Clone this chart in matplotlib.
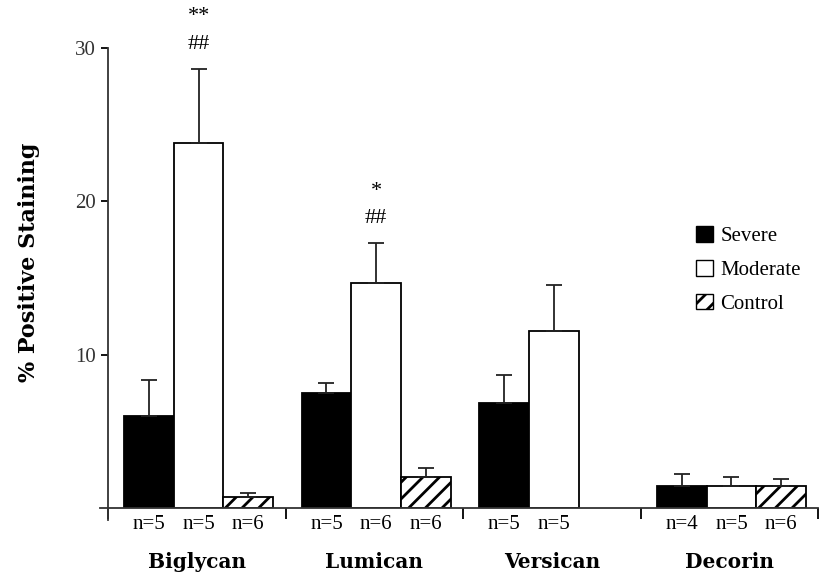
from matplotlib import pyplot as plt
from matplotlib.patches import Patch
import numpy as np

plt.rcParams['font.family'] = ['Liberation Serif', 'DejaVu Serif']
plt.rcParams['hatch.linewidth'] = 2.0

proteins = ["Biglycan", "Lumican", "Versican", "Decorin"]
groups = ["Severe", "Moderate", "Control"]
# mean % positive staining, None = not measured
severe = [6.0, 7.5, 6.85, 1.45]
moderate = [23.8, 14.7, 11.55, 1.45]
control = [0.75, 2.0, None, 1.45]
# upper error (SEM)
severe_err = [2.35, 0.65, 1.85, 0.75]
moderate_err = [4.85, 2.55, 3.0, 0.55]
control_err = [0.25, 0.6, None, 0.45]
n_labels = [["n=5", "n=5", "n=6"], ["n=5", "n=6", "n=6"],
            ["n=5", "n=5", None], ["n=4", "n=5", "n=6"]]
stars = {(0, 1): ("**", "##"), (1, 1): ("*", "##")}

fig = plt.figure(figsize=(8.29, 5.85), dpi=100)
ax = fig.add_axes([0.1303, 0.1316, 0.857, 0.7864])

w = 0.28
styles = [dict(color="black", edgecolor="black"),
          dict(color="white", edgecolor="black"),
          dict(color="white", edgecolor="black", hatch="//")]
x = np.arange(len(proteins))
for j, (vals, errs) in enumerate([(severe, severe_err), (moderate, moderate_err), (control, control_err)]):
    for i in range(len(proteins)):
        if vals[i] is None:
            continue
        xi = x[i] + (j - 1) * w + 0.01
        ax.bar(xi, vals[i], width=w, linewidth=1.3, **styles[j])
        ax.errorbar(xi, vals[i], yerr=[[0], [errs[i]]], fmt="none", ecolor="#222222",
                    elinewidth=1.3, capsize=6, capthick=1.3)
        if n_labels[i][j]:
            ax.text(xi, -0.45, n_labels[i][j], ha="center", va="top", fontsize=15)
        if (i, j) in stars:
            top = vals[i] + errs[i]
            ax.text(xi, top + 1.6, stars[(i, j)][1], ha="center", va="center", fontsize=16)
            ax.text(xi, top + 3.4, stars[(i, j)][0], ha="center", va="center", fontsize=16)

for i, name in enumerate(proteins):
    ax.text(x[i], -2.85, name, ha="center", va="top", fontsize=14.5, fontweight="bold",
            family="DejaVu Serif")

ax.set_xlim(-0.5, 3.5)
ax.set_ylim(0, 30)
ax.set_yticks([10, 20, 30])
ax.set_xticks([-0.5, 0.5, 1.5, 2.5, 3.5])
ax.set_xticklabels([])
ax.tick_params(axis="x", direction="out", length=8, width=1.3)
ax.tick_params(axis="y", direction="out", length=5, width=1.3, labelsize=15, labelcolor="#333333")
for s in ["top", "right"]:
    ax.spines[s].set_visible(False)
for s in ["left", "bottom"]:
    ax.spines[s].set_linewidth(1.3)
    ax.spines[s].set_color("#333333")
# axes run a bit past the origin
ax.plot([-0.5, -0.5], [-0.8, 0], color="#333333", lw=1.3, clip_on=False)
ax.plot([-0.545, -0.5], [0, 0], color="#333333", lw=1.3, clip_on=False)

ax.set_ylabel("% Positive Staining", fontsize=16, fontweight="bold", family="DejaVu Serif")
ax.yaxis.set_label_coords(-0.096, 0.535)

handles = [Patch(facecolor="black", edgecolor="black"),
           Patch(facecolor="white", edgecolor="black"),
           Patch(facecolor="white", edgecolor="black", hatch="//")]
ax.legend(handles, groups, loc="upper left", bbox_to_anchor=(0.828, 0.613), frameon=False,
          fontsize=15, handlelength=0.8, handleheight=0.8, handletextpad=0.35, labelspacing=0.65,
          borderpad=0, borderaxespad=0)

fig.savefig("out.png", dpi=100)
